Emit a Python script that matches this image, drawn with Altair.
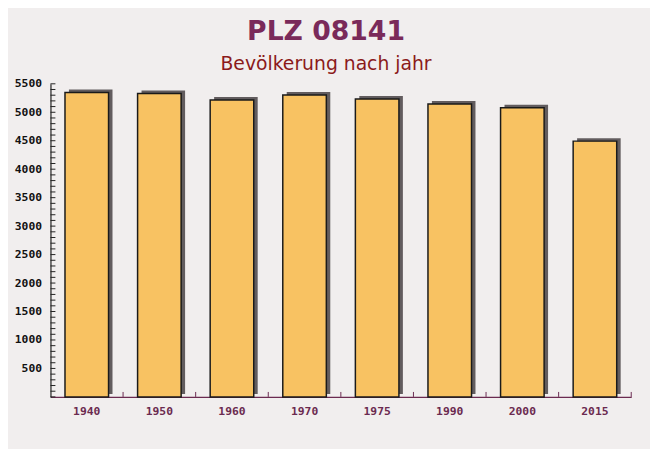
import altair as alt
import pandas as pd

years = ["1940", "1950", "1960", "1970", "1975", "1990", "2000", "2015"]
population = [5349, 5331, 5217, 5303, 5234, 5147, 5078, 4493]
y_tick_values = list(range(0, 5501, 100))
y_label_values = list(range(500, 5501, 500))

df = pd.DataFrame({"jahr": years, "einwohner": population})
ticks_df = pd.DataFrame({"v": y_tick_values})

W, H = 588, 317
STEP = W / 8.0

xscale = alt.Scale(domain=years, paddingInner=0.4, paddingOuter=0.2)
yscale = alt.Scale(domain=[0, 5500], nice=False)

mono = "DejaVu Sans Mono"
purple = "#6b2a50"

xaxis = alt.Axis(title=None, ticks=False, labelAngle=0, labelColor=purple,
                 labelFont=mono, labelFontWeight="bold", labelFontSize=11.5,
                 labelPadding=9, domainColor=purple, domainWidth=1.2, grid=False)
yaxis = alt.Axis(title=None, ticks=False, values=y_label_values, format="d",
                 labelColor="#111111",
                 labelFont=mono, labelFontWeight="bold", labelFontSize=11.5,
                 labelPadding=9, domainColor="#222222", domainWidth=1.2, grid=False)

shadow = alt.Chart(df).mark_bar(color="#625c5e", xOffset=4, yOffset=-3).encode(
    x=alt.X("jahr:N", scale=xscale, sort=years, axis=xaxis, title=None),
    y=alt.Y("einwohner:Q", scale=yscale, axis=yaxis, title=None),
)

bars = alt.Chart(df).mark_bar(color="#f8c262", stroke="#1a1a1a", strokeWidth=1.5).encode(
    x=alt.X("jahr:N", scale=xscale, sort=years, axis=xaxis, title=None),
    y=alt.Y("einwohner:Q", scale=yscale, axis=yaxis, title=None),
)

ytick = alt.Chart(ticks_df).mark_rule(color="#222222", strokeWidth=1).encode(
    y=alt.Y("v:Q", scale=yscale, axis=yaxis, title=None),
    x=alt.value(0),
    x2=alt.value(5),
)

xtick = alt.Chart(df).mark_rule(color=purple, xOffset=STEP / 2).encode(
    x=alt.X("jahr:N", scale=xscale, sort=years, axis=xaxis, title=None),
    y=alt.value(H - 5),
    y2=alt.value(H),
)

chart = alt.layer(shadow, bars, ytick, xtick).properties(
    width=W,
    height=H,
    background="#f1eeee",
    padding={"left": 43, "top": 74, "right": 19, "bottom": 50},
    autosize=alt.AutoSizeParams(type="none"),
    title=alt.TitleParams(
        text="PLZ 08141",
        subtitle="Bevölkerung nach jahr",
        anchor="middle",
        dx=-15,
        font="DejaVu Sans",
        fontSize=27,
        fontWeight="bold",
        color="#7a2a5a",
        subtitleFont="DejaVu Sans",
        subtitleFontSize=19,
        subtitleColor="#8b1a1a",
        subtitlePadding=9,
        offset=3,
    ),
).configure_view(stroke=None)

chart.save("out.html", embed_options={"renderer": "svg", "actions": False})
